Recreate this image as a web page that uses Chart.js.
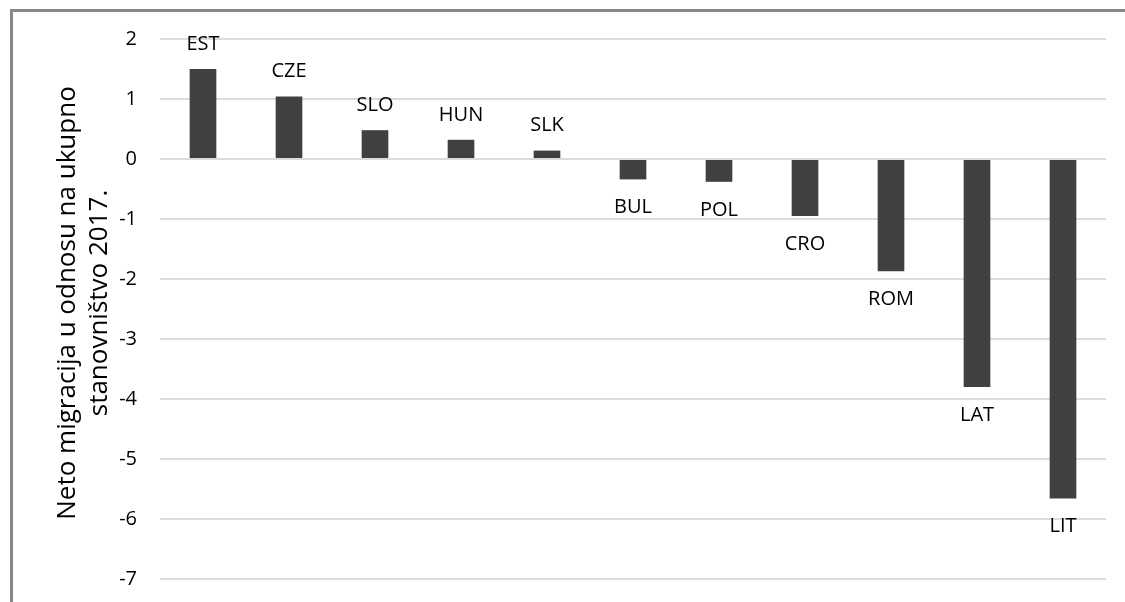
<!DOCTYPE html>
<html>
<head>
<meta charset="utf-8">
<script src="https://cdn.jsdelivr.net/npm/chart.js@4"></script>
<style>
    html, body {
        margin: 0;
        padding: 0;
        background: #ffffff;
        overflow: hidden;
    }
    #wrap {
        position: relative;
        width: 1125px;
        height: 602px;
        overflow: hidden;
    }
    #frame {
        position: absolute;
        left: 10px;
        top: 9px;
        width: 1200px;
        height: 700px;
        border-top: 3px solid #888888;
        border-left: 3px solid #888888;
    }
    #migChart {
        position: absolute;
        left: 0;
        top: 0;
    }
</style>
</head>
<body>
<div id="wrap">
    <div id="frame"></div>
    <canvas id="migChart" width="1125" height="674"></canvas>
</div>
<script>
const countries = ['EST', 'CZE', 'SLO', 'HUN', 'SLK', 'BUL', 'POL', 'CRO', 'ROM', 'LAT', 'LIT'];
const netMigration = [1.50, 1.04, 0.48, 0.32, 0.14, -0.34, -0.38, -0.95, -1.87, -3.80, -5.66];
const yTitle = ['Neto migracija u odnosu na ukupno', 'stanovništvo 2017.'];

const FONT = "'Open Sans', 'Noto Sans', sans-serif";

// country names drawn at the end of each bar
const barLabels = {
    id: 'barLabels',
    afterDatasetsDraw(chart) {
        const ctx = chart.ctx;
        const meta = chart.getDatasetMeta(0);
        ctx.save();
        ctx.font = '20px ' + FONT;
        ctx.fillStyle = '#000000';
        ctx.textAlign = 'center';
        ctx.textBaseline = 'middle';
        meta.data.forEach((bar, i) => {
            const v = netMigration[i];
            const y = v >= 0 ? bar.y - 25 : bar.y + 28;
            ctx.fillText(countries[i], bar.x, y);
        });
        ctx.restore();
    }
};

// axis title, centred on the visible part of the plot (the canvas runs below the window)
const axisTitle = {
    id: 'axisTitle',
    afterDraw(chart) {
        const ctx = chart.ctx;
        ctx.save();
        ctx.translate(68, 303);
        ctx.rotate(-Math.PI / 2);
        ctx.font = '26px ' + FONT;
        ctx.fillStyle = '#000000';
        ctx.textAlign = 'center';
        ctx.textBaseline = 'middle';
        yTitle.forEach((line, i) => {
            ctx.fillText(line, 0, i * 32);
        });
        ctx.restore();
    }
};

function initChart() {
    const ctx = document.getElementById('migChart').getContext('2d');

    new Chart(ctx, {
        type: 'bar',
        data: {
            labels: countries,
            datasets: [{
                data: netMigration,
                backgroundColor: '#404040',
                borderWidth: 0,
                categoryPercentage: 1.0,
                barPercentage: 0.31
            }]
        },
        options: {
            responsive: false,
            animation: false,
            layout: {
                padding: { top: 39, right: 19, bottom: 0, left: 0 }
            },
            plugins: {
                legend: { display: false },
                tooltip: { enabled: false }
            },
            scales: {
                x: {
                    display: false
                },
                y: {
                    min: -8,
                    max: 2,
                    border: { display: false },
                    grid: {
                        color: '#dcdcdc',
                        lineWidth: 2,
                        drawTicks: false
                    },
                    ticks: {
                        stepSize: 1,
                        padding: 23,
                        color: '#000000',
                        font: { family: FONT, size: 20 }
                    },
                    afterFit: function(scale) {
                        scale.width = 160;
                    }
                }
            }
        },
        plugins: [barLabels, axisTitle]
    });
}

document.addEventListener('DOMContentLoaded', () => {
    initChart();
});
</script>
</body>
</html>
